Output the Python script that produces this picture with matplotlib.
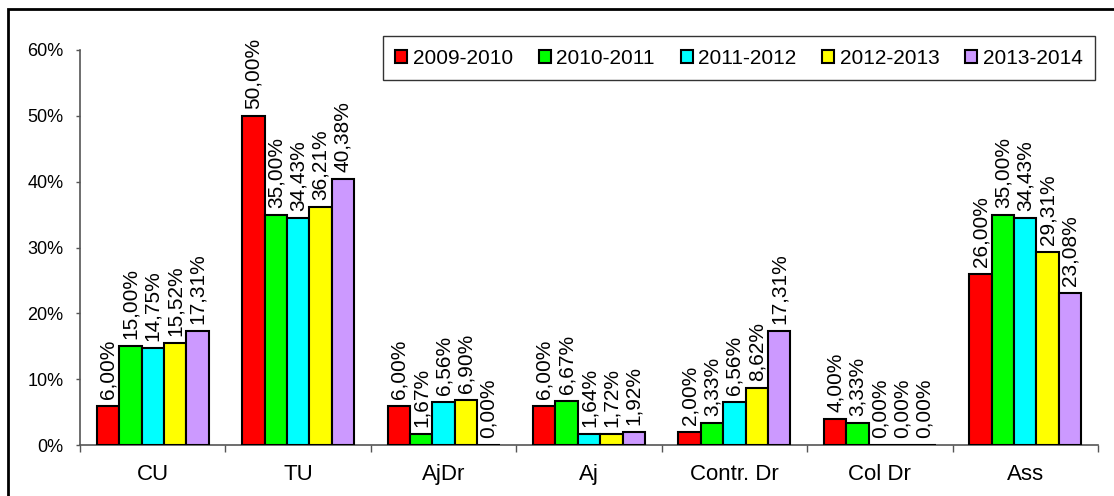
import matplotlib
matplotlib.use("Agg")
import matplotlib.pyplot as plt
from matplotlib.patches import Rectangle
from matplotlib.ticker import FixedLocator, PercentFormatter
import numpy as np

plt.rcParams['font.family'] = ['Liberation Sans', 'DejaVu Sans']

categories = ["CU", "TU", "AjDr", "Aj", "Contr. Dr", "Col Dr", "Ass"]
series_names = ["2009-2010", "2010-2011", "2011-2012", "2012-2013", "2013-2014"]
v_2009_2010 = [6.00, 50.00, 6.00, 6.00, 2.00, 4.00, 26.00]
v_2010_2011 = [15.00, 35.00, 1.67, 6.67, 3.33, 3.33, 35.00]
v_2011_2012 = [14.75, 34.43, 6.56, 1.64, 6.56, 0.00, 34.43]
v_2012_2013 = [15.52, 36.21, 6.90, 1.72, 8.62, 0.00, 29.31]
v_2013_2014 = [17.31, 40.38, 0.00, 1.92, 17.31, 0.00, 23.08]
series_values = [v_2009_2010, v_2010_2011, v_2011_2012, v_2012_2013, v_2013_2014]
colors = ["#FF0000", "#00FF00", "#00FFFF", "#FFFF00", "#CC99FF"]
y_ticks = [0, 10, 20, 30, 40, 50, 60]

W, H = 1114, 496
fig = plt.figure(figsize=(W / 100, H / 100), dpi=100)
ax = fig.add_axes([80 / W, 1 - 445 / H, (1098 - 80) / W, (445 - 50) / H])

n = len(series_names)
x = np.arange(1, len(categories) + 1)
bw = 1 / (n + 1.5)
for i, (name, vals, c) in enumerate(zip(series_names, series_values, colors)):
    pos = x + (i - (n - 1) / 2) * bw
    ax.bar(pos, vals, width=bw, color=c, edgecolor="black", linewidth=1.5, label=name, zorder=3)
    for p, v in zip(pos, vals):
        ax.annotate(f"{v:.2f}".replace(".", ",") + "%", xy=(p, v), xytext=(0, 5),
                    textcoords="offset points", rotation=90, ha="center", va="bottom",
                    fontsize=15, color="black")

ax.set_xlim(0.5, len(categories) + 0.5)
ax.set_ylim(0, 60)
ax.set_yticks(y_ticks)
ax.yaxis.set_major_formatter(PercentFormatter(decimals=0))
ax.set_xticks(x)
ax.set_xticklabels(categories)
ax.xaxis.set_minor_locator(FixedLocator(np.arange(0.5, len(categories) + 1, 1)))
ax.tick_params(axis="x", which="major", length=0, pad=14, labelsize=16)
ax.tick_params(axis="x", which="minor", length=5, width=1, color="#555555", direction="out")
ax.tick_params(axis="y", length=3, width=1, color="#555555", pad=9, labelsize=13)
for s in ["top", "right"]:
    ax.spines[s].set_visible(False)
for s in ["left", "bottom"]:
    ax.spines[s].set_color("#555555")
    ax.spines[s].set_linewidth(1.2)

leg = fig.legend(loc="upper right", bbox_to_anchor=(1095 / W, 1 - 36 / H), ncol=5,
                 frameon=True, fancybox=False, fontsize=15, handlelength=0.58,
                 handleheight=0.58, handletextpad=0.25, columnspacing=1.25,
                 borderpad=0.6, borderaxespad=0)
leg.get_frame().set_edgecolor("black")
leg.get_frame().set_linewidth(1.0)
for h in leg.legend_handles:
    h.set_linewidth(1.5)

fig.patches.append(Rectangle((8 / W, -0.2), 1.2, 1 - 9 / H + 0.2, transform=fig.transFigure,
                             fill=False, edgecolor="black", linewidth=2, zorder=10))

fig.savefig("out.png", dpi=100)
